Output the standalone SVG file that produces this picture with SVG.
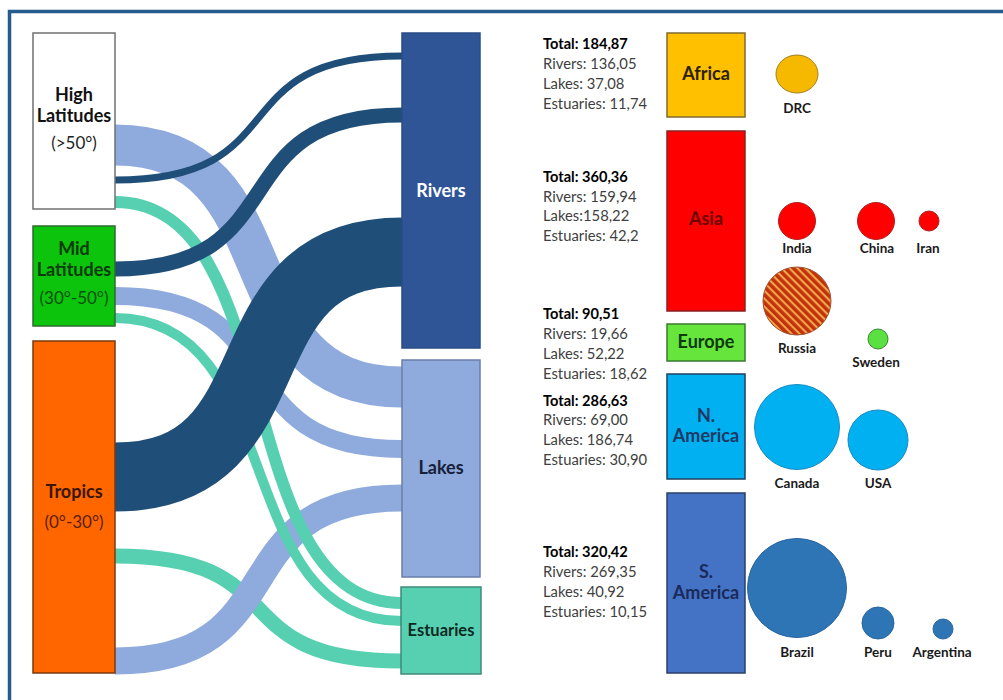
<svg xmlns="http://www.w3.org/2000/svg" width="1003" height="700" viewBox="0 0 1003 700">
<defs>
<pattern id="stripes" patternUnits="userSpaceOnUse" width="5.6" height="5.6" patternTransform="rotate(-45)">
<rect x="0" y="0" width="5.6" height="5.6" fill="#F2A64E"/>
<rect x="0" y="0" width="3.5" height="5.6" fill="#C2320A"/>
</pattern>
</defs>
<style>
text{font-family:Lato,"Liberation Sans",sans-serif}
.node{stroke-width:1.5}
.flow{fill:none;stroke-linecap:butt}
.dk{stroke:#1F4E79}
.lb{stroke:#8FAADC}
.tl{stroke:#57D0B2}
.nl{font-size:18px;font-weight:bold;text-anchor:middle}
.deg{font-size:17px;text-anchor:middle}
.tot{font-size:14.6px;font-weight:bold;fill:#000}
.val{font-size:14.8px;fill:#404040}
.reg{font-size:18px;font-weight:bold;text-anchor:middle}
.cty{font-size:13.5px;font-weight:bold;text-anchor:middle;fill:#1a1a1a}
</style>
<rect width="1003" height="700" fill="#fff"/>
<path d="M9.5 705 V11.5 H1010" fill="none" stroke="#255A8C" stroke-width="3.5"/>

<g id="connectors">
<path class="flow tl" stroke-width="15" d="M115 556 C300 556 217 661 402 661"/>
<path class="flow lb" stroke-width="27" d="M115 661 C300 661 217 498 402 498"/>
<path class="flow lb" stroke-width="41" d="M115 145 C300 145 217 387 402 387"/>
<path class="flow lb" stroke-width="18" d="M115 296 C300 296 217 449 402 449"/>
<path class="flow tl" stroke-width="12" d="M115 202 C290 202 227 603 402 603"/>
<path class="flow tl" stroke-width="10" d="M115 318 C290 318 227 621 402 621"/>
<path class="flow dk" stroke-width="69" d="M115 477 C300 477 217 252 402 252"/>
<path class="flow dk" stroke-width="7" d="M115 180 C300 180 217 56 402 56"/>
<path class="flow dk" stroke-width="15" d="M115 269 C300 269 217 115 402 115"/>
</g>

<g id="high-latitudes">
<rect class="node" x="33" y="33" width="82" height="176" fill="#fff" stroke="#707070"/>
<text class="nl" x="74" y="101" fill="#111">High</text>
<text class="nl" x="74" y="122" fill="#111">Latitudes</text>
<text class="deg" x="74" y="149" fill="#222">(&gt;50°)</text>
</g>
<g id="mid-latitudes">
<rect class="node" x="33" y="226" width="82" height="100" fill="#0CC40C" stroke="#2E6B2E"/>
<text class="nl" x="74" y="255" fill="#0B3A0B">Mid</text>
<text class="nl" x="74" y="276" fill="#0B3A0B">Latitudes</text>
<text class="deg" x="74" y="304" fill="#085008">(30°-50°)</text>
</g>
<g id="tropics">
<rect class="node" x="33" y="341" width="82" height="332" fill="#FF6600" stroke="#7A3A10"/>
<text class="nl" x="74" y="498" fill="#3A1500">Tropics</text>
<text class="deg" x="74" y="528" fill="#5A1E00">(0°-30°)</text>
</g>

<g id="rivers">
<rect class="node" x="402" y="33" width="78" height="315" fill="#2F5597" stroke="#2A4C86"/>
<text class="nl" x="441" y="197" fill="#fff">Rivers</text>
</g>
<g id="lakes">
<rect class="node" x="402" y="360" width="78" height="217" fill="#8FAADC" stroke="#6A7EA8"/>
<text class="nl" x="441" y="474" fill="#15203A">Lakes</text>
</g>
<g id="estuaries">
<rect class="node" x="401" y="587" width="80" height="87" fill="#57D0B2" stroke="#3F8A78"/>
<text class="nl" x="441" y="636" fill="#0A2A22" style="font-size:16.5px">Estuaries</text>
</g>

<g id="africa">
<text class="tot" x="543" y="49">Total: 184,87</text>
<text class="val" x="543" y="69">Rivers: 136,05</text>
<text class="val" x="543" y="88.5">Lakes: 37,08</text>
<text class="val" x="543" y="108.5">Estuaries: 11,74</text>
<rect class="node" x="667" y="33" width="78" height="84" fill="#FFC000" stroke="#7F6A30"/>
<text class="reg" x="706" y="80" fill="#2A2000">Africa</text>
</g>
<g id="asia">
<text class="tot" x="543" y="182">Total: 360,36</text>
<text class="val" x="543" y="201.5">Rivers: 159,94</text>
<text class="val" x="543" y="221">Lakes:158,22</text>
<text class="val" x="543" y="241">Estuaries: 42,2</text>
<rect class="node" x="667" y="131" width="78" height="180" fill="#FF0000" stroke="#8A2020"/>
<text class="reg" x="706" y="225" fill="#6B0000">Asia</text>
</g>
<g id="europe">
<text class="tot" x="543" y="319">Total: 90,51</text>
<text class="val" x="543" y="339">Rivers: 19,66</text>
<text class="val" x="543" y="358.5">Lakes: 52,22</text>
<text class="val" x="543" y="378.5">Estuaries: 18,62</text>
<rect class="node" x="667" y="324" width="78" height="37" fill="#66E63C" stroke="#3A7A30"/>
<text class="reg" x="706" y="348" fill="#0E3A0E">Europe</text>
</g>
<g id="north-america">
<text class="tot" x="543" y="405.5">Total: 286,63</text>
<text class="val" x="543" y="425">Rivers: 69,00</text>
<text class="val" x="543" y="444.5">Lakes: 186,74</text>
<text class="val" x="543" y="464.5">Estuaries: 30,90</text>
<rect class="node" x="667" y="374" width="78" height="105" fill="#00B0F0" stroke="#1F4060"/>
<text class="reg" x="706" y="421.5" fill="#1F3864">N.</text>
<text class="reg" x="706" y="442" fill="#1F3864">America</text>
</g>
<g id="south-america">
<text class="tot" x="543" y="557">Total: 320,42</text>
<text class="val" x="543" y="577">Rivers: 269,35</text>
<text class="val" x="543" y="596.5">Lakes: 40,92</text>
<text class="val" x="543" y="616.5">Estuaries: 10,15</text>
<rect class="node" x="667" y="493" width="78" height="180" fill="#4472C4" stroke="#2A3F6A"/>
<text class="reg" x="706" y="578" fill="#1A2A5A">S.</text>
<text class="reg" x="706" y="599" fill="#1A2A5A">America</text>
</g>

<g id="drc"><ellipse cx="797" cy="74" rx="21" ry="19" fill="#F7B800" stroke="#A08020"/><text class="cty" x="797" y="113">DRC</text></g>
<g id="india"><circle cx="797" cy="221" r="18.5" fill="#FF0000" stroke="#B02020"/><text class="cty" x="797" y="253">India</text></g>
<g id="china"><circle cx="876" cy="221" r="18.5" fill="#FF0000" stroke="#B02020"/><text class="cty" x="877" y="253">China</text></g>
<g id="iran"><circle cx="929" cy="221" r="10" fill="#FF0000" stroke="#B02020"/><text class="cty" x="928" y="253">Iran</text></g>
<g id="russia"><circle cx="797" cy="301" r="34" fill="url(#stripes)" stroke="#A05030"/><text class="cty" x="797" y="353">Russia</text></g>
<g id="sweden"><circle cx="878" cy="339" r="10" fill="#5AE040" stroke="#3A8A30"/><text class="cty" x="876" y="367">Sweden</text></g>
<g id="canada"><circle cx="797" cy="427" r="42.5" fill="#00B0F0" stroke="#1A8AC0"/><text class="cty" x="797" y="488">Canada</text></g>
<g id="usa"><circle cx="878" cy="440" r="30" fill="#00B0F0" stroke="#1A8AC0"/><text class="cty" x="878" y="488">USA</text></g>
<g id="brazil"><circle cx="797" cy="588" r="49.5" fill="#2E75B6" stroke="#2A64A0"/><text class="cty" x="797" y="657">Brazil</text></g>
<g id="peru"><circle cx="878" cy="623" r="16" fill="#2E75B6" stroke="#2A64A0"/><text class="cty" x="878" y="657">Peru</text></g>
<g id="argentina"><circle cx="943" cy="629" r="10" fill="#2E75B6" stroke="#2A64A0"/><text class="cty" x="942" y="657">Argentina</text></g>
</svg>
